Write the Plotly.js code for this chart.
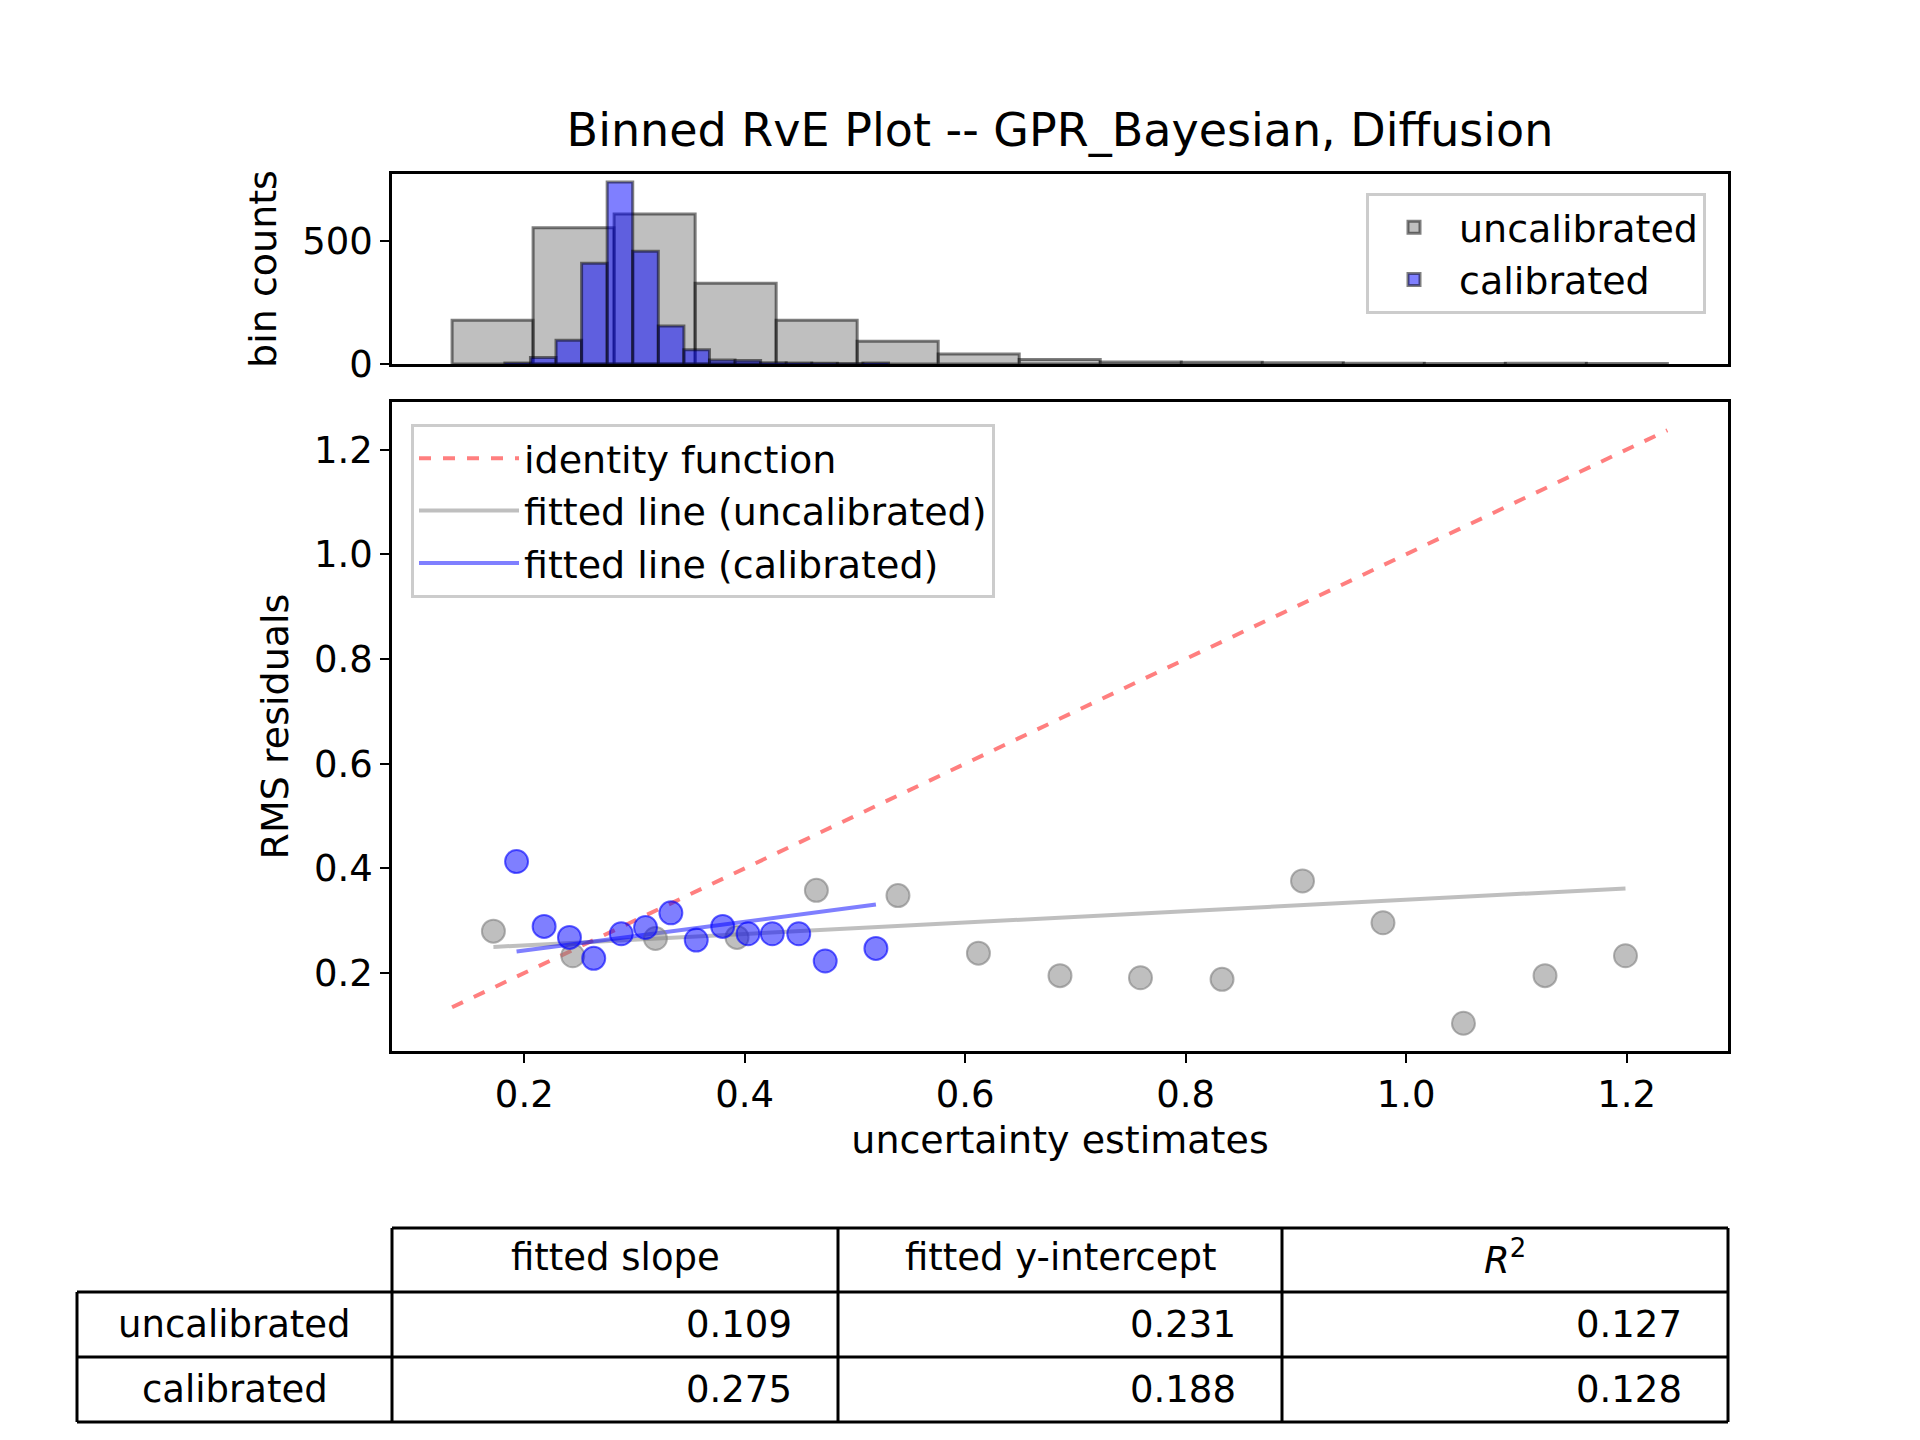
<!DOCTYPE html>
<html>
<head>
<meta charset="utf-8">
<script src="https://cdn.plot.ly/plotly-3.0.1.min.js"></script>
<style>body{margin:0;background:#fff}</style>
</head>
<body>
<div id="chart" style="width:1920px;height:1440px"></div>
<script>
// histogram bins
const uncalStart = 0.1345, uncalWidth = 0.0735;
const uncalCounts = [178, 555, 611, 329, 178, 93, 41, 18, 8, 7, 5, 3, 2, 3, 2];
const calStart = 0.1824, calWidth = 0.0232;
const calCounts = [4, 26, 97, 410, 741, 459, 155, 58, 16, 14, 5, 4, 3, 1, 4];

// binned RvE points
const uncalX = [0.172, 0.244, 0.319, 0.393, 0.465, 0.539, 0.612, 0.686, 0.759, 0.833, 0.906, 0.979, 1.052, 1.126, 1.199];
const uncalY = [0.280, 0.233, 0.266, 0.268, 0.358, 0.348, 0.238, 0.195, 0.191, 0.188, 0.376, 0.296, 0.104, 0.195, 0.233];
const calX = [0.193, 0.218, 0.241, 0.263, 0.288, 0.310, 0.333, 0.356, 0.380, 0.403, 0.425, 0.449, 0.473, 0.519];
const calY = [0.413, 0.289, 0.268, 0.228, 0.275, 0.287, 0.315, 0.263, 0.289, 0.275, 0.275, 0.275, 0.223, 0.247];

// fit results
const fitSlope = [0.109, 0.275];
const fitIntercept = [0.231, 0.188];
const fitR2 = [0.127, 0.128];
const rowLabels = ['uncalibrated', 'calibrated'];
const colLabels = ['fitted slope', 'fitted y-intercept', '<i>R</i><sup>2</sup>'];
const identityRange = [0.1345, 1.237];

function centers(start, w, n) {
	let out = [];
	for (let i = 0; i < n; i++) out.push(start + w * (i + 0.5));
	return out;
}
function minMax(a) { return [Math.min(...a), Math.max(...a)]; }

const font = 'DejaVu Sans, sans-serif';
const uxr = minMax(uncalX), cxr = minMax(calX);

const traces = [
	{type: 'bar', x: centers(uncalStart, uncalWidth, uncalCounts.length), y: uncalCounts,
	 width: uncalWidth, name: 'uncalibrated', xaxis: 'x2', yaxis: 'y2', legend: 'legend',
	 marker: {color: 'rgba(128,128,128,0.5)', line: {color: 'rgba(0,0,0,0.5)', width: 3}}},
	{type: 'bar', x: centers(calStart, calWidth, calCounts.length), y: calCounts,
	 width: calWidth, name: 'calibrated', xaxis: 'x2', yaxis: 'y2', legend: 'legend',
	 marker: {color: 'rgba(0,0,255,0.5)', line: {color: 'rgba(0,0,0,0.5)', width: 3}}},
	{type: 'scatter', mode: 'lines', x: identityRange, y: identityRange, name: 'identity function',
	 legend: 'legend2', line: {color: 'rgba(255,0,0,0.5)', width: 4, dash: 'dash'}},
	{type: 'scatter', mode: 'lines', x: uxr, y: uxr.map(v => fitSlope[0] * v + fitIntercept[0]),
	 name: 'fitted line (uncalibrated)', legend: 'legend2', line: {color: 'rgba(128,128,128,0.5)', width: 4}},
	{type: 'scatter', mode: 'lines', x: cxr, y: cxr.map(v => fitSlope[1] * v + fitIntercept[1]),
	 name: 'fitted line (calibrated)', legend: 'legend2', line: {color: 'rgba(0,0,255,0.5)', width: 4}},
	{type: 'scatter', mode: 'markers', x: uncalX, y: uncalY, showlegend: false,
	 marker: {size: 23, color: 'rgba(128,128,128,0.5)', line: {color: 'rgba(128,128,128,0.6)', width: 2}}},
	{type: 'scatter', mode: 'markers', x: calX, y: calY, showlegend: false,
	 marker: {size: 23, color: 'rgba(0,0,255,0.5)', line: {color: 'rgba(0,0,255,0.6)', width: 2}}}
];

// table drawn in paper pixels
const W = 1920, H = 1440;
const colX = [77, 392, 838, 1282, 1728];
const rowY = [1228, 1292, 1357, 1422];
const shapes = [];
const annotations = [];
const px = v => v / W, py = v => 1 - v / H;
function line(x0, y0, x1, y1) {
	shapes.push({type: 'line', xref: 'paper', yref: 'paper', x0: px(x0), y0: py(y0), x1: px(x1), y1: py(y1),
		line: {color: 'black', width: 3}});
}
line(colX[1], rowY[0], colX[4], rowY[0]);
for (let r = 1; r < rowY.length; r++) line(colX[0], rowY[r], colX[4], rowY[r]);
line(colX[0], rowY[1], colX[0], rowY[3]);
for (let c = 1; c < colX.length; c++) line(colX[c], rowY[0], colX[c], rowY[3]);
function cell(text, x, y, align) {
	annotations.push({text: text, xref: 'paper', yref: 'paper', x: px(x), y: py(y), showarrow: false,
		xanchor: align, yanchor: 'middle', font: {family: font, size: 37, color: 'black'}});
}
colLabels.forEach((t, i) => cell(t, (colX[i + 1] + colX[i + 2]) / 2, (rowY[0] + rowY[1]) / 2 - 3, 'center'));
const values = [fitSlope, fitIntercept, fitR2];
rowLabels.forEach((t, r) => {
	const yc = (rowY[r + 1] + rowY[r + 2]) / 2;
	cell(t, (colX[0] + colX[1]) / 2, yc, 'center');
	values.forEach((col, c) => cell(col[r].toFixed(3), colX[c + 2] - 44, yc, 'right'));
});

const axBase = {showline: true, mirror: true, linecolor: 'black', linewidth: 2.5, ticks: 'outside',
	ticklen: 9, tickwidth: 2, tickcolor: 'black', showgrid: false, zeroline: false,
	tickfont: {family: font, size: 37, color: 'black'}};

const layout = {
	width: W, height: H, margin: {l: 0, r: 0, t: 0, b: 0},
	paper_bgcolor: 'white', plot_bgcolor: 'white', barmode: 'overlay',
	font: {family: font, color: 'black'},
	title: {text: 'Binned RvE Plot -- GPR_Bayesian, Diffusion', x: 1060 / W, xanchor: 'center', y: 1 - 130 / H, yanchor: 'middle',
		font: {family: font, size: 46, color: 'black'}},
	xaxis: Object.assign({}, axBase, {domain: [px(392), px(1728)], range: [0.080, 1.292], anchor: 'y',
		tickvals: [0.2, 0.4, 0.6, 0.8, 1.0, 1.2], ticktext: ['0.2', '0.4', '0.6', '0.8', '1.0', '1.2'],
		title: {text: 'uncertainty estimates', font: {family: font, size: 38}, standoff: 12}}),
	yaxis: Object.assign({}, axBase, {domain: [py(1051), py(402)], range: [0.051, 1.291],
		tickvals: [0.2, 0.4, 0.6, 0.8, 1.0, 1.2], ticktext: ['0.2', '0.4', '0.6', '0.8', '1.0', '1.2'],
		title: {text: 'RMS residuals', font: {family: font, size: 38}, standoff: 14}}),
	xaxis2: Object.assign({}, axBase, {domain: [px(392), px(1728)], range: [0.080, 1.292], anchor: 'y2',
		matches: 'x', showticklabels: false, ticks: ''}),
	yaxis2: Object.assign({}, axBase, {domain: [py(364), py(174)], range: [0, 774], anchor: 'x2',
		tickvals: [0, 500], title: {text: 'bin counts', font: {family: font, size: 38}, standoff: 14}}),
	legend: {x: px(1706), xanchor: 'right', y: py(193), yanchor: 'top', bgcolor: 'rgba(255,255,255,0.8)',
		bordercolor: '#cccccc', borderwidth: 3, font: {family: font, size: 38}, itemwidth: 80, tracegroupgap: 0},
	legend2: {x: px(411), xanchor: 'left', y: py(424), yanchor: 'top', bgcolor: 'rgba(255,255,255,0.8)',
		bordercolor: '#cccccc', borderwidth: 3, font: {family: font, size: 38}, itemwidth: 100},
	shapes: shapes, annotations: annotations
};

Plotly.newPlot('chart', traces, layout, {displayModeBar: false});
</script>
</body>
</html>
